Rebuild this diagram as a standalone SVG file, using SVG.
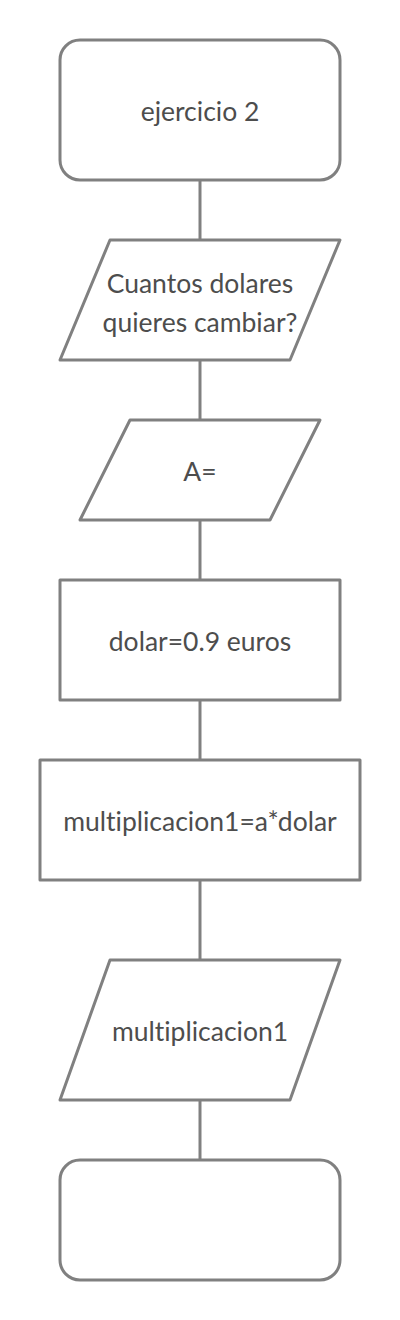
<svg xmlns="http://www.w3.org/2000/svg" width="400" height="1320" viewBox="0 0 400 1320">
<style>
.s{fill:#ffffff;stroke:#808080;stroke-width:3;stroke-linejoin:round}
.c{stroke:#808080;stroke-width:3;fill:none}
.t{font-family:Lato,"Liberation Sans",sans-serif;font-size:26.5px;fill:#4d4d4d;text-anchor:middle;font-variant-ligatures:none}
</style>
<rect width="400" height="1320" fill="#ffffff"/>
<g id="connectors">
<line class="c" x1="200" y1="180" x2="200" y2="240"/>
<line class="c" x1="200" y1="360" x2="200" y2="420"/>
<line class="c" x1="200" y1="520" x2="200" y2="580"/>
<line class="c" x1="200" y1="700" x2="200" y2="760"/>
<line class="c" x1="200" y1="880" x2="200" y2="960"/>
<line class="c" x1="200" y1="1100" x2="200" y2="1160"/>
</g>
<g id="start">
<rect class="s" x="60" y="40" width="280" height="140" rx="20"/>
<text class="t" x="200" y="121">ejercicio 2</text>
</g>
<g id="ask">
<polygon class="s" points="110,240 340,240 290,360 60,360"/>
<text class="t" x="200" y="293">Cuantos dolares</text>
<text class="t" x="200" y="332">quieres cambiar?</text>
</g>
<g id="input">
<polygon class="s" points="130,420 320,420 270,520 80,520"/>
<text class="t" x="200" y="481">A=</text>
</g>
<g id="rate">
<rect class="s" x="60" y="580" width="280" height="120"/>
<text class="t" x="200" y="651">dolar=0.9 euros</text>
</g>
<g id="calc">
<rect class="s" x="40" y="760" width="320" height="120"/>
<text class="t" x="200" y="831">multiplicacion1=a*dolar</text>
</g>
<g id="output">
<polygon class="s" points="110,960 340,960 290,1100 60,1100"/>
<text class="t" x="200" y="1041">multiplicacion1</text>
</g>
<g id="end">
<rect class="s" x="60" y="1160" width="280" height="120" rx="20"/>
</g>
</svg>
